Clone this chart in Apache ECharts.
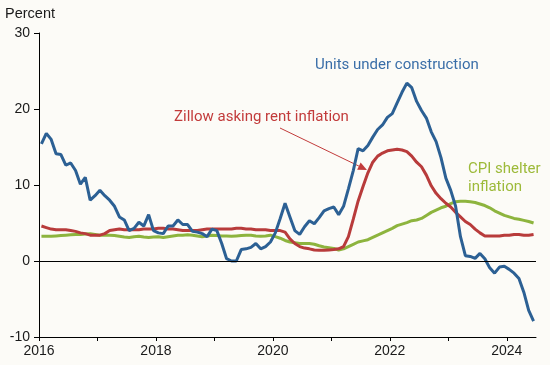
<!DOCTYPE html>
<html>
<head>
<meta charset="utf-8">
<script src="https://cdn.jsdelivr.net/npm/echarts@6/dist/echarts.min.js"></script>
<style>
html,body{margin:0;padding:0;background:#fcfbf7;}
#c{width:550px;height:365px;}
</style>
</head>
<body>
<div id="c"></div>
<script>
// Monthly data, Jan 2016 .. Jun 2024 (102 months)
const startYear = 2016;
const unitsUnderConstruction = [
  15.4,16.8,16.0,14.1,14.0,12.6,12.9,11.9,10.1,11.0,
  8.0,8.6,9.3,8.6,8.0,7.2,5.8,5.4,4.0,4.3,
  5.1,4.6,6.1,4.0,3.7,3.6,4.6,4.6,5.4,4.8,
  4.8,3.9,3.8,3.6,3.2,4.2,4.0,2.3,0.3,0.0,
  0.0,1.5,1.6,1.8,2.3,1.6,1.9,2.5,3.7,5.6,
  7.6,5.8,4.0,3.5,4.5,5.3,4.9,5.7,6.6,6.9,
  7.1,6.1,7.2,9.5,11.9,14.8,14.5,15.2,16.3,17.3,
  17.9,18.9,19.4,20.8,22.2,23.4,22.8,21.0,19.8,18.8,
  17.0,15.7,13.6,10.9,9.3,7.2,3.2,0.7,0.6,0.35,
  1.0,0.3,-0.9,-1.6,-0.8,-0.7,-1.1,-1.6,-2.3,-4.1,
  -6.5,-7.9
];
const zillowRent = [
  4.6,4.4,4.2,4.1,4.1,4.1,4.0,3.9,3.7,3.6,
  3.4,3.4,3.4,3.6,4.0,4.1,4.2,4.1,4.1,4.1,
  4.1,4.2,4.2,4.2,4.3,4.3,4.2,4.2,4.1,4.0,
  4.0,4.0,4.0,4.1,4.2,4.2,4.2,4.2,4.2,4.2,
  4.3,4.3,4.2,4.2,4.1,4.1,4.1,4.0,4.0,4.0,
  3.8,2.9,2.3,1.9,1.7,1.6,1.45,1.4,1.4,1.45,
  1.5,1.6,1.9,3.2,5.5,7.9,9.8,11.6,13.0,13.8,
  14.2,14.5,14.6,14.7,14.6,14.4,13.8,13.0,12.4,11.3,
  9.9,8.9,8.2,7.6,7.1,6.4,5.8,5.2,4.8,4.2,
  3.7,3.3,3.3,3.3,3.3,3.4,3.4,3.5,3.5,3.4,
  3.4,3.5
];
const cpiShelter = [
  3.25,3.25,3.25,3.3,3.35,3.4,3.45,3.5,3.5,3.55,
  3.6,3.5,3.4,3.4,3.4,3.35,3.25,3.15,3.1,3.2,
  3.25,3.15,3.1,3.15,3.2,3.1,3.2,3.3,3.4,3.4,
  3.45,3.4,3.3,3.2,3.3,3.4,3.35,3.3,3.3,3.25,
  3.3,3.35,3.4,3.4,3.3,3.25,3.3,3.4,3.2,3.0,
  2.7,2.5,2.4,2.3,2.3,2.3,2.2,2.0,1.85,1.75,
  1.65,1.45,1.6,1.9,2.2,2.5,2.65,2.8,3.1,3.4,
  3.7,4.0,4.3,4.65,4.85,5.05,5.3,5.4,5.6,6.0,
  6.4,6.7,7.0,7.2,7.55,7.8,7.85,7.85,7.8,7.7,
  7.5,7.3,7.0,6.6,6.3,6.0,5.8,5.6,5.5,5.35,
  5.2,5.0
];
const xTickYears = [2016,2017,2018,2019,2020,2021,2022,2023,2024];
const xLabelYears = [2016,2018,2020,2022,2024];

function toPairs(arr){
  return arr.map((v,i)=>[startYear + (i+0.5)/12, v]);
}

const chart = echarts.init(document.getElementById('c'), null, {renderer:'canvas'});
const axisFont = 'Liberation Sans, Arial, sans-serif';
const lblFont = 'Roboto, sans-serif';
const arrowTip = [367,170], arrowStart = [280,128];
const ux = (arrowTip[0]-arrowStart[0]), uy = (arrowTip[1]-arrowStart[1]);
const ul = Math.sqrt(ux*ux+uy*uy), nx = ux/ul, ny = uy/ul;
const bx = arrowTip[0]-9*nx, by = arrowTip[1]-9*ny;

chart.setOption({
  backgroundColor:'#fcfbf7',
  animation:false,
  grid:{left:39,right:14,top:33,bottom:28,containLabel:false},
  xAxis:{
    type:'value',min:2016,max:2024.5,interval:1,
    axisLine:{show:true,onZero:false,lineStyle:{color:'#000',width:1}},
    axisTick:{show:true,length:4,lineStyle:{color:'#000'},customValues:xTickYears},
    axisLabel:{color:'#1a1a1a',fontSize:14,fontFamily:axisFont,margin:7,customValues:xLabelYears,
      formatter:(v)=>String(Math.round(v))},
    splitLine:{show:false}
  },
  yAxis:{
    type:'value',min:-10,max:30,interval:10,
    axisLine:{show:true,lineStyle:{color:'#000',width:1}},
    axisTick:{show:true,length:5,lineStyle:{color:'#000'}},
    axisLabel:{color:'#1a1a1a',fontSize:14,fontFamily:axisFont,margin:9},
    splitLine:{show:false}
  },
  series:[
    {type:'line',name:'CPI shelter inflation',data:toPairs(cpiShelter),showSymbol:false,z:2,
      lineStyle:{color:'#8db43e',width:3},
      markLine:{silent:true,symbol:'none',label:{show:false},
        lineStyle:{color:'#000',width:1,type:'solid'},data:[{yAxis:0}]}},
    {type:'line',name:'Zillow asking rent inflation',data:toPairs(zillowRent),showSymbol:false,z:3,
      lineStyle:{color:'#b83b3b',width:3}},
    {type:'line',name:'Units under construction',data:toPairs(unitsUnderConstruction),showSymbol:false,z:4,
      lineStyle:{color:'#2c6094',width:3}}
  ],
  graphic:[
    {type:'text',x:5,y:14,style:{text:'Percent',font:'14.5px '+axisFont,fill:'#1a1a1a',verticalAlign:'middle'}},
    {type:'text',x:315,y:65,style:{text:'Units under construction',font:'15px '+lblFont,fill:'#3a6ea8',verticalAlign:'middle'}},
    {type:'text',x:174,y:117,style:{text:'Zillow asking rent inflation',font:'15px '+lblFont,fill:'#c23b3b',verticalAlign:'middle'}},
    {type:'text',x:468,y:169,style:{text:'CPI shelter',font:'15px '+lblFont,fill:'#9dba3a',verticalAlign:'middle'}},
    {type:'text',x:468,y:187,style:{text:'inflation',font:'15px '+lblFont,fill:'#9dba3a',verticalAlign:'middle'}},
    {type:'line',shape:{x1:arrowStart[0],y1:arrowStart[1],x2:bx,y2:by},style:{stroke:'#c23b3b',lineWidth:1}},
    {type:'polygon',shape:{points:[arrowTip,[bx-4*ny,by+4*nx],[bx+4*ny,by-4*nx]]},style:{fill:'#c23b3b'}}
  ]
});
</script>
</body>
</html>
